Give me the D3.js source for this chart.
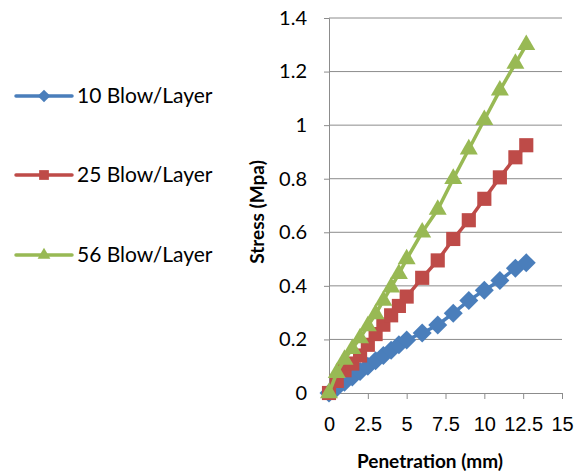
<!DOCTYPE html>
<html><head><meta charset="utf-8">
<script src="https://cdn.jsdelivr.net/npm/d3@7"></script>
<style>body{margin:0;background:#fff}svg{display:block}</style>
</head><body>
<script>
const penetration = [0,0.5,1,1.5,2,2.5,3,3.5,4,4.5,5,6,7,8,9,10,11,12,12.7];
const blow10 = [0,0.02,0.04,0.06,0.08,0.1,0.12,0.14,0.16,0.18,0.198,0.224,0.254,0.298,0.345,0.384,0.42,0.466,0.486];
const blow25 = [0,0.045,0.085,0.11,0.14,0.18,0.22,0.255,0.29,0.325,0.36,0.43,0.495,0.575,0.645,0.725,0.805,0.88,0.925];
const blow56 = [0,0.075,0.125,0.165,0.205,0.25,0.295,0.345,0.395,0.445,0.5,0.6,0.685,0.8,0.91,1.02,1.13,1.23,1.3];
const seriesNames = ["10 Blow/Layer","25 Blow/Layer","56 Blow/Layer"];
const xTicks = [0,2.5,5,7.5,10,12.5,15];
const yTicks = [0,0.2,0.4,0.6,0.8,1,1.2,1.4];
const colors = ["#4a7ebb","#be4b48","#98b954"];

// square diamond (Excel style) symbol
const sqDiamond = {draw(ctx,size){const r=Math.sqrt(size/2);ctx.moveTo(0,-r);ctx.lineTo(r,0);ctx.lineTo(0,r);ctx.lineTo(-r,0);ctx.closePath();}};
const shapes = [sqDiamond, d3.symbolSquare, d3.symbolTriangle];

const W=580,H=474;
const svg=d3.select("body").append("svg").attr("width",W).attr("height",H);
const x=d3.scaleLinear().domain([0,15]).range([329,562]);
const y=d3.scaleLinear().domain([0,1.4]).range([393,18]);
const font="Lato, 'Open Sans', sans-serif";

// gridlines
svg.append("g").selectAll("line").data(yTicks.slice(1)).join("line")
  .attr("x1",x(0)).attr("x2",x(15)).attr("y1",d=>y(d)).attr("y2",d=>y(d))
  .attr("stroke","#8c8c8c").attr("stroke-width",1);

// y axis
const ya=svg.append("g").attr("transform",`translate(${x(0)},0)`)
  .call(d3.axisLeft(y).tickValues(yTicks).tickFormat(d=>String(d)).tickSize(5).tickPadding(17));
ya.select(".domain").attr("stroke","#8c8c8c");
ya.selectAll(".tick line").attr("stroke","#8c8c8c");
ya.selectAll("text").attr("font-family",font).attr("font-size",20).attr("fill","#000");

// x axis
const xa=svg.append("g").attr("transform",`translate(0,${y(0)})`)
  .call(d3.axisBottom(x).tickValues(xTicks).tickFormat(d=>String(d)).tickSize(6).tickPadding(18));
xa.select(".domain").attr("stroke","#8c8c8c");
xa.selectAll(".tick line").attr("stroke","#8c8c8c");
xa.selectAll("text").attr("font-family","'Liberation Sans Narrow', 'Liberation Sans', sans-serif").attr("font-size",20).attr("fill","#000");

// titles
svg.append("text").attr("x",430).attr("y",468).attr("text-anchor","middle")
  .attr("font-family",font).attr("font-weight","bold").attr("font-size",19).text("Penetration (mm)");
svg.append("text").attr("transform","translate(264,212) rotate(-90)").attr("text-anchor","middle")
  .attr("font-family",font).attr("font-weight","bold").attr("font-size",19).text("Stress (Mpa)");

const data=[blow10,blow25,blow56];
const sizes=[180,200,140];
const line=d3.line().x(d=>x(d[0])).y(d=>y(d[1]));
data.forEach((vals,i)=>{
  const pts=penetration.map((p,j)=>[p,vals[j]]);
  const g=svg.append("g");
  g.append("path").attr("d",line(pts)).attr("fill","none").attr("stroke",colors[i]).attr("stroke-width",3.5);
  g.selectAll("path.m").data(pts).join("path").attr("class","m")
    .attr("transform",d=>`translate(${x(d[0])},${y(d[1])})`)
    .attr("d",d3.symbol().type(shapes[i]).size(sizes[i])).attr("fill",colors[i]);
});

// legend
const legY=[96,175,255];
const legSizes=[80,95,70];
seriesNames.forEach((n,i)=>{
  const g=svg.append("g");
  g.append("line").attr("x1",16).attr("x2",72).attr("y1",legY[i]).attr("y2",legY[i])
    .attr("stroke",colors[i]).attr("stroke-width",3.5).attr("stroke-linecap","round");
  g.append("path").attr("transform",`translate(44,${legY[i]})`)
    .attr("d",d3.symbol().type(shapes[i]).size(legSizes[i])).attr("fill",colors[i]);
  g.append("text").attr("x",77).attr("y",legY[i]+7).attr("font-family",font)
    .attr("font-size",21).attr("fill","#000").text(n);
});
</script>
</body></html>
